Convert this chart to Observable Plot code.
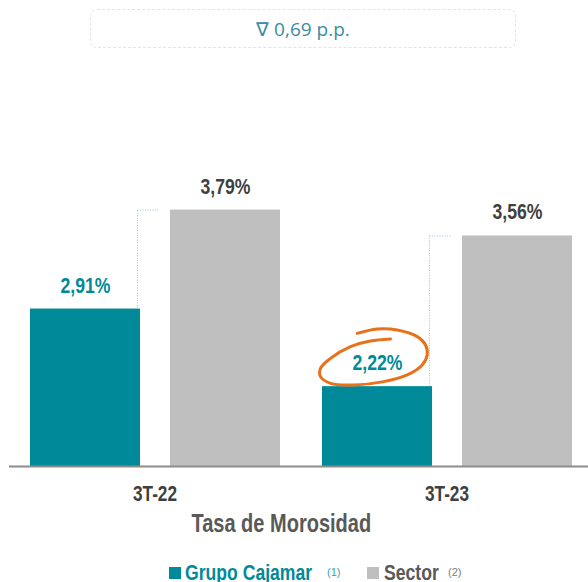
<!DOCTYPE html>
<html>
<head>
<meta charset="utf-8">
<script src="https://cdn.jsdelivr.net/npm/d3@7"></script>
<script src="https://cdn.jsdelivr.net/npm/@observablehq/plot@0.6"></script>
<style>
  html, body { margin: 0; padding: 0; background: #fff; }
  #wrap { position: relative; width: 588px; height: 582px; overflow: hidden; }
  .narrow { font-family: "Liberation Sans", Arial, sans-serif; font-weight: bold; display: inline-block; transform: scaleX(0.8); }
  #box { position: absolute; left: 90px; top: 9px; width: 426px; height: 39px; box-sizing: border-box;
         border: 1px dashed #e4e4e4; border-radius: 7px; display: flex; align-items: center; justify-content: center;
         font-family: "Open Sans", "Noto Sans", sans-serif; font-size: 19px; color: #3a8ca3; }
  #chart { position: absolute; left: 0; top: 0; }
  #title { position: absolute; left: 0; width: 562px; top: 511px; text-align: center; font-size: 25px; line-height: 25px; color: #595959; white-space: nowrap; }
  #title span { transform-origin: 50% 50%; }
  .lg { position: absolute; white-space: nowrap; transform-origin: 0 50%; }
  .lgText { top: 562px; font-size: 22px; line-height: 22px; }
  .lgNote { top: 566px; font-size: 11px; line-height: 13px; font-family: "Liberation Sans", Arial, sans-serif; }
  .sw { position: absolute; top: 567px; width: 12px; height: 12px; }
</style>
</head>
<body>
<div id="wrap">
  <div id="box"></div>
  <div id="chart"></div>
  <div id="title"><span class="narrow"></span></div>
  <div id="legend"></div>
</div>
<script>
// ---- data ----
const periods = ["3T-22", "3T-23"];
const series = ["Grupo Cajamar", "Sector"];
const seriesNotes = ["(1)", "(2)"];
const cajamar = [2.91, 2.22];
const sector = [3.79, 3.56];
const highlightPeriod = "3T-23";
const diffLabel = "\u2207 0,69 p.p.";
const axisTitle = "Tasa de Morosidad";

// ---- styles ----
const teal = "#008a99";
const grey = "#bfbfbf";
const darkText = "#404040";
const boldFont = '"Liberation Sans", Arial, sans-serif';
const narrowScale = 0.8;
const base = 1.51;

const rows = periods.flatMap((p, i) => [
  {period: p, series: series[0], value: cajamar[i]},
  {period: p, series: series[1], value: sector[i]}
]);
const pairs = periods.map((p, i) => ({period: p, c: cajamar[i], s: sector[i]}));
const highlight = rows.filter(d => d.period === highlightPeriod && d.series === series[0]);
const fmt = v => v.toFixed(2).replace(".", ",") + "%";

// hand-drawn loop around the highlighted label (relative to label centre)
const loopPts = [[-20.3,-30.3],[-0.3,-34.7],[19.7,-33.7],[39.7,-27],[48,-18.7],[49.7,-8.7],[44.7,1.3],[29.7,11.3],
  [6.3,18],[-23.7,21.3],[-47,19.7],[-57,13],[-57,4.7],[-47,-5.3],[-27,-17],[-7,-22.7],[13,-24.7]];
const loopSymbol = {
  draw(context) {
    d3.line().curve(d3.curveCatmullRom.alpha(0.5)).context(context)(loopPts);
  }
};

const chart = Plot.plot({
  width: 588,
  height: 510,
  marginTop: 60,
  marginBottom: 44,
  marginLeft: 8,
  marginRight: 0,
  style: {fontFamily: boldFont, color: darkText, background: "transparent"},
  fx: {domain: periods, paddingInner: 0.14, paddingOuter: 0.0615, align: 0.576},
  x: {domain: series, paddingInner: 0.2163, paddingOuter: 0, axis: null},
  y: {domain: [base, 5.12], axis: null},
  color: {domain: series, range: [teal, grey]},
  marks: [
    Plot.barY(rows, {fx: "period", x: "series", y1: base, y2: "value", fill: "series"}),
    Plot.ruleX(pairs, {fx: "period", x: () => series[0], y1: "c", y2: "s", dx: 52,
      stroke: "#8fcdd5", strokeWidth: 1, strokeDasharray: "1,1.5"}),
    Plot.ruleY(pairs, {fx: "period", y: "s", x1: () => series[0], x2: () => series[1],
      insetLeft: 107.5, insetRight: 120, stroke: "#8fcdd5", strokeWidth: 1, strokeDasharray: "1,1.5"}),
    Plot.text(rows, {fx: "period", x: "series", y: "value", text: d => fmt(d.value), dy: -16.5,
      fill: d => d.series === series[0] ? teal : darkText, fontSize: 22, fontWeight: "bold"}),
    Plot.dot(highlight, {fx: "period", x: "series", y: "value", dy: -23, r: 10, symbol: loopSymbol,
      fill: "none", stroke: "#e8711a", strokeWidth: 3, strokeLinecap: "round", strokeLinejoin: "round"}),
    Plot.ruleY(pairs, {fx: "period", y: () => base, x1: () => series[0], x2: () => series[1],
      insetLeft: -21, insetRight: -21, stroke: "#8c8c8c", strokeWidth: 2}),
    Plot.axisFx({anchor: "bottom", tickSize: 0, tickPadding: 34, fontSize: 21.5, fontWeight: "bold", fill: darkText, label: null})
  ]
});

// condense the bold labels horizontally (narrow face look)
d3.select(chart).selectAll("text").each(function() {
  const x = +this.getAttribute("x") || 0, y = +this.getAttribute("y") || 0;
  const t = this.getAttribute("transform") || "";
  this.removeAttribute("x");
  this.removeAttribute("y");
  this.setAttribute("transform", `${t} translate(${x},${y}) scale(${narrowScale},1)`);
});
document.getElementById("chart").appendChild(chart);

document.getElementById("box").textContent = diffLabel;
document.querySelector("#title span").textContent = axisTitle;

// legend
const legend = document.getElementById("legend");
const legendLayout = [
  {sw: 169, text: 185, note: 327, color: teal, textColor: teal, noteColor: "#3aa0ad"},
  {sw: 367, text: 384, note: 448, color: grey, textColor: "#595959", noteColor: "#808080"}
];
series.forEach((s, i) => {
  const L = legendLayout[i];
  const sw = document.createElement("div");
  sw.className = "sw";
  sw.style.left = L.sw + "px";
  sw.style.background = L.color;
  legend.appendChild(sw);
  const t = document.createElement("div");
  t.className = "lg lgText narrow";
  t.style.left = L.text + "px";
  t.style.color = L.textColor;
  t.textContent = s;
  legend.appendChild(t);
  const n = document.createElement("div");
  n.className = "lg lgNote";
  n.style.left = L.note + "px";
  n.style.color = L.noteColor;
  n.textContent = seriesNotes[i];
  legend.appendChild(n);
});
</script>
</body>
</html>
